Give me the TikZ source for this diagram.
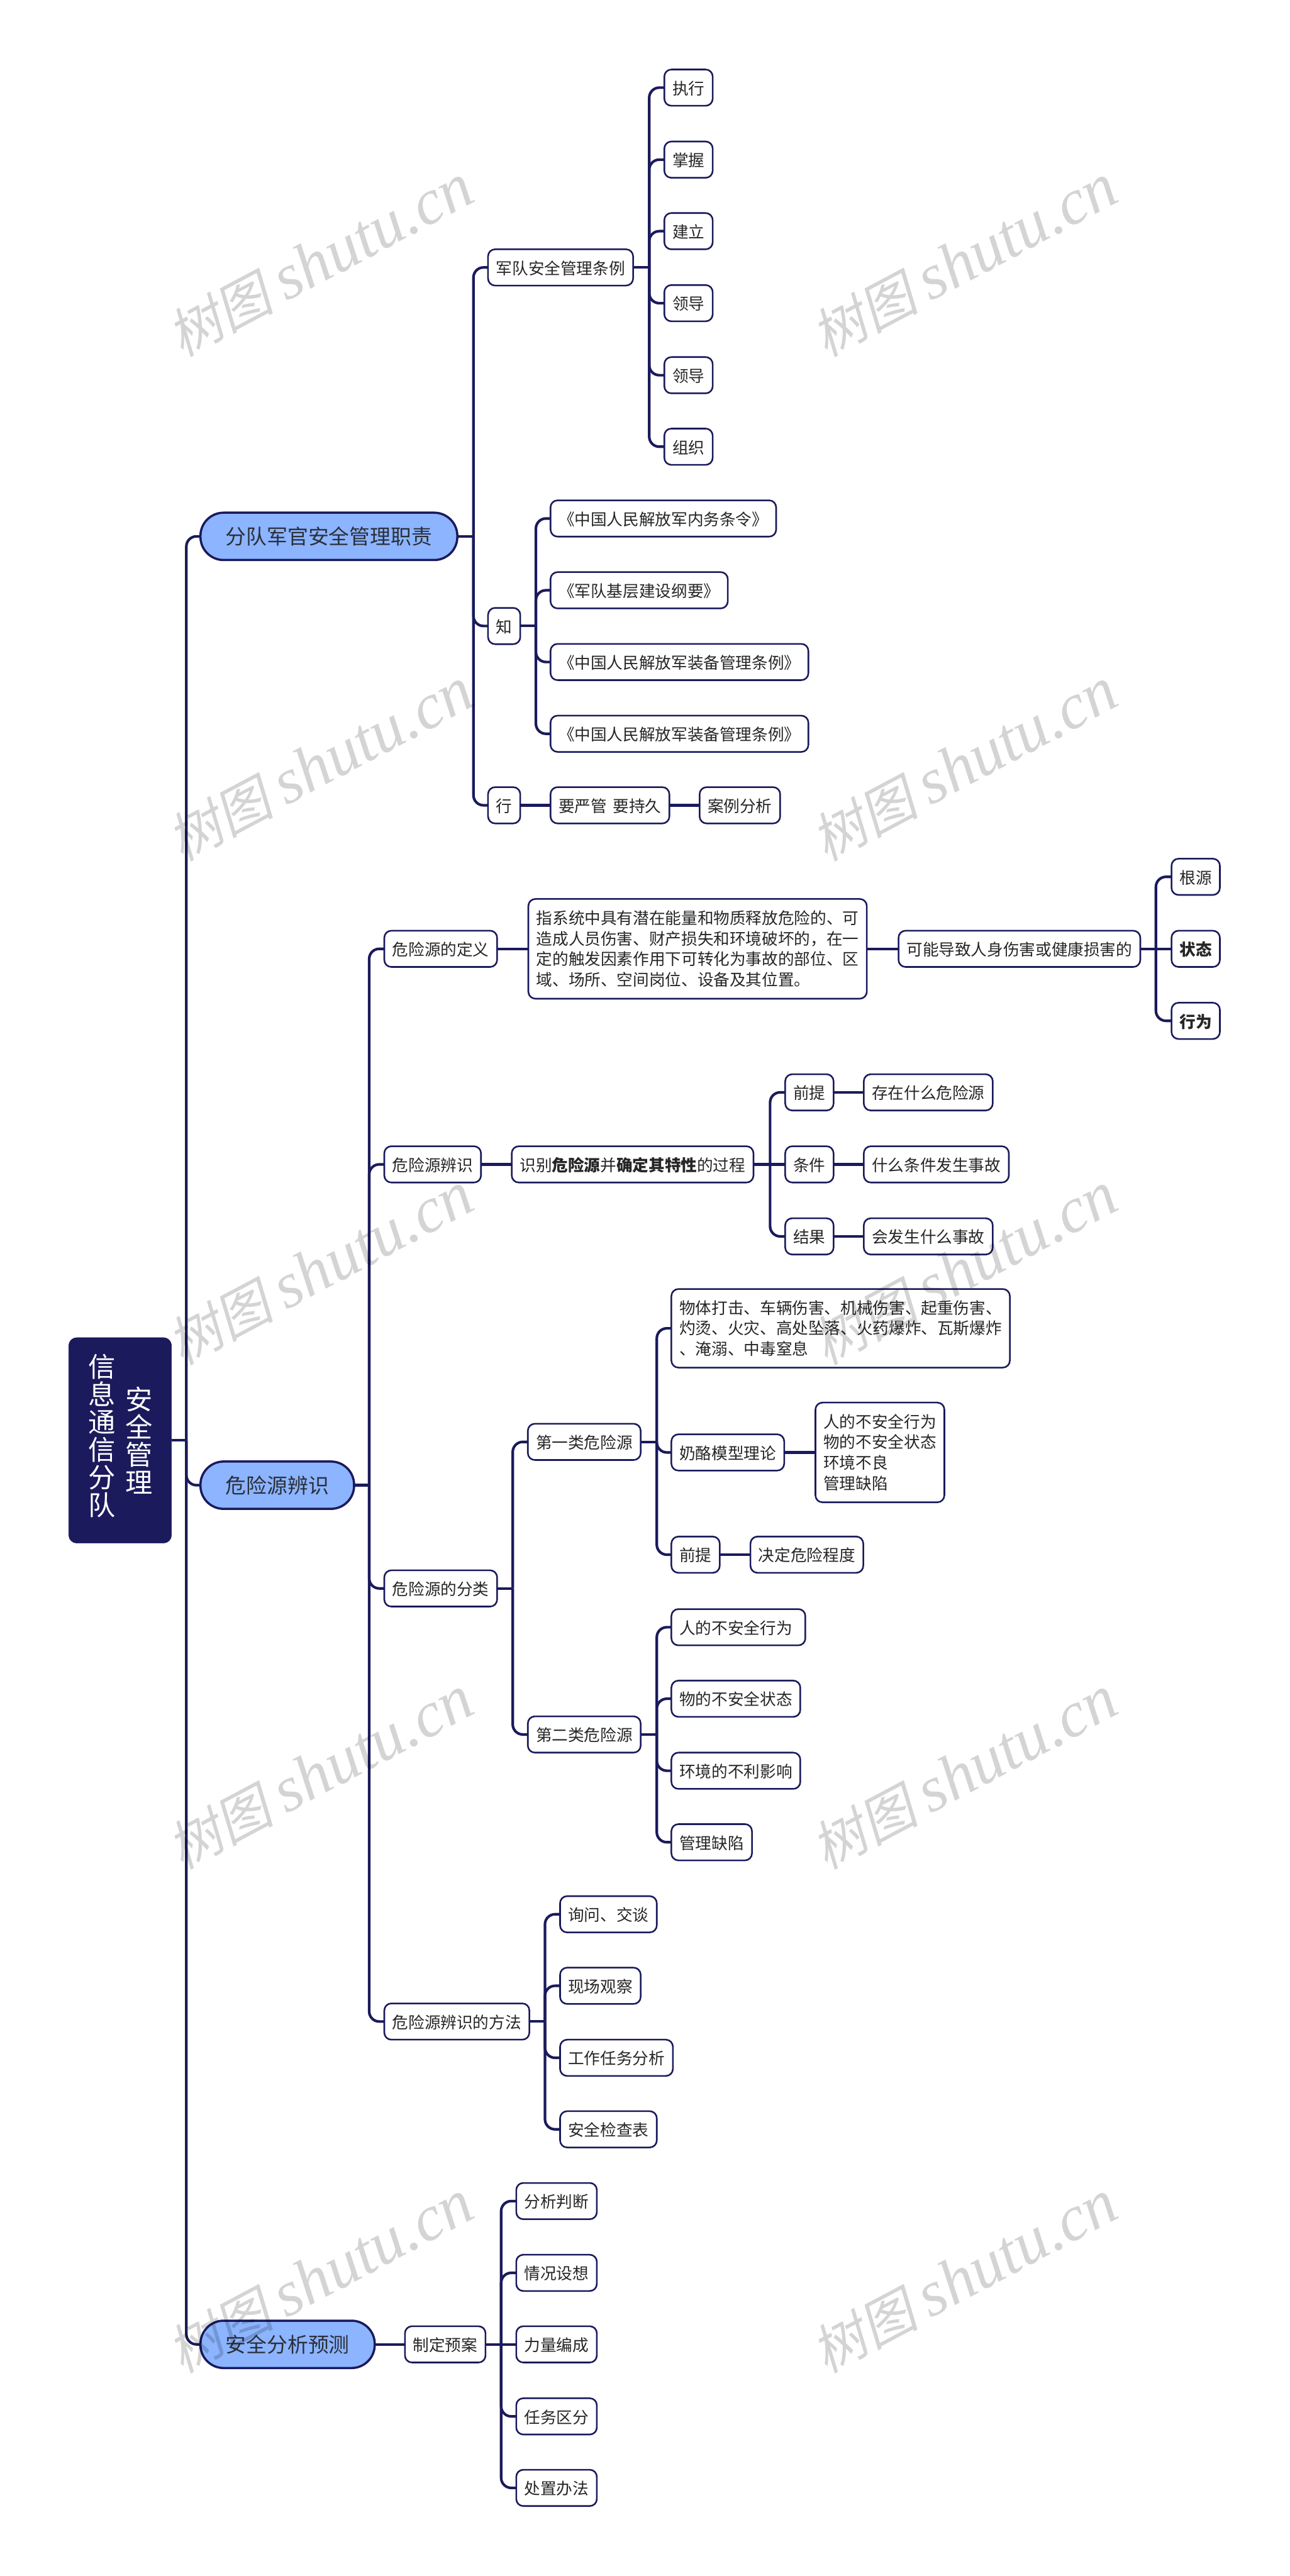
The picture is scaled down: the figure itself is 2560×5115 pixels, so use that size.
\documentclass[tikz,border=0pt]{standalone}
\usepackage{fontspec,xcolor}
\setmainfont{Noto Sans CJK SC}
\newfontfamily\markcjk{Noto Sans CJK SC}[FakeSlant=.2]
\newfontfamily\marklatin{Liberation Serif}
\definecolor{mapnavy}{HTML}{1A1A5C}
\definecolor{mapblue}{HTML}{8CB4FF}
\definecolor{mapink}{HTML}{2A2F3A}
\tikzset{
    rootbox/.style={draw=mapnavy,fill=mapnavy,rounded corners=8pt,minimum width=102pt,minimum height=204pt,outer sep=0pt},
    roottext/.style={text=white,align=center,inner sep=0pt,font=\fontsize{27}{27.4}\selectfont},
    mainbox/.style={anchor=west,draw=mapnavy,fill=mapblue,line width=2.2pt,rounded corners=23pt,inner xsep=25pt,minimum height=47pt,outer sep=0pt,text=mapink,text height=18.6pt,text depth=3pt,font=\fontsize{20.5}{24}\selectfont},
    topic/.style={anchor=west,draw=mapnavy,fill=white,line width=1.6pt,rounded corners=7pt,inner xsep=8pt,inner ysep=0pt,minimum height=36pt,outer sep=0pt,text=black!85,text height=15.6pt,text depth=2pt,font=\fontsize{16}{20.5}\selectfont},
    note/.style={anchor=west,draw=mapnavy,fill=white,line width=1.6pt,rounded corners=7pt,inner xsep=8pt,inner ysep=0pt,outer sep=0pt,align=left,text=black!85,font=\fontsize{16}{20.5}\selectfont},
    link/.style={draw=mapnavy,line width=2.6pt,rounded corners=10pt},
    shutu/.style={rotate=28,inner sep=0pt,text=black,text opacity=.17}
}
\begin{document}
\begin{tikzpicture}[x=.5pt,y=-.5pt]
    \useasboundingbox (0,0) rectangle (2560,5115);
    \fill[white] (0,0) rectangle (2560,5115);
    \coordinate (forkroot) at (370,0);
    \coordinate (forka) at (940,0);
    \coordinate (forkrules) at (1289,0);
    \coordinate (forkknow) at (1064,0);
    \coordinate (forkb) at (733,0);
    \coordinate (forkharm) at (2295,0);
    \coordinate (forkident) at (1529,0);
    \coordinate (forksort) at (1018,0);
    \coordinate (forkfirst) at (1304,0);
    \coordinate (forkway) at (1082,0);
    \coordinate (forkplan) at (995,0);

    \node[rootbox] (root) at (238.5,2860) {};
    \node[roottext] (rootleft) at (202,2851) {信\\息\\通\\信\\分\\队};
    \node[roottext] (rootright) at (276,2860) {安\\全\\管\\理};

    \node[mainbox] (duty) at (398,1065) {分队军官安全管理职责};
    \node[mainbox] (hazard) at (398,2949) {危险源辨识};
    \node[mainbox] (predict) at (398,4655) {安全分析预测};

    \node[topic] (rules) at (969,531) {军队安全管理条例};
    \node[topic] (know) at (969,1243) {知};
    \node[topic] (act) at (969,1599) {行};
    \node[topic] (ruleone) at (1319,174) {执行};
    \node[topic] (ruletwo) at (1319,317) {掌握};
    \node[topic] (rulethree) at (1319,459) {建立};
    \node[topic] (rulefour) at (1319,602) {领导};
    \node[topic] (rulefive) at (1319,745) {领导};
    \node[topic] (rulesix) at (1319,887) {组织};
    \node[topic] (bookone) at (1093,1029.5) {《中国人民解放军内务条令》};
    \node[topic] (booktwo) at (1093,1172) {《军队基层建设纲要》};
    \node[topic] (bookthree) at (1093,1314.5) {《中国人民解放军装备管理条例》};
    \node[topic] (bookfour) at (1093,1457) {《中国人民解放军装备管理条例》};
    \node[topic] (strict) at (1093,1599) {要严管\hspace{6pt}要持久};
    \node[topic] (cases) at (1389,1599) {案例分析};

    \node[topic] (define) at (763,1884) {危险源的定义};
    \node[topic] (ident) at (763,2312) {危险源辨识};
    \node[topic] (sort) at (763,3154) {危险源的分类};
    \node[topic] (way) at (763,4014) {危险源辨识的方法};

    \node[note,minimum height=99pt] (meaning) at (1049,1884) {指系统中具有潜在能量和物质释放危险的、可\\造成人员伤害、财产损失和环境破坏的，在一\\定的触发因素作用下可转化为事故的部位、区\\域、场所、空间岗位、设备及其位置。};
    \node[topic] (harm) at (1784,1884) {可能导致人身伤害或健康损害的};
    \node[topic] (source) at (2326,1741) {根源};
    \node[topic] (state) at (2326,1884) {\textbf{状态}};
    \node[topic] (conduct) at (2326,2027) {\textbf{行为}};

    \node[topic] (process) at (1016,2312) {识别\textbf{危险源}并\textbf{确定其特性}的过程};
    \node[topic] (premise) at (1559,2169) {前提};
    \node[topic] (cond) at (1559,2312) {条件};
    \node[topic] (result) at (1559,2455) {结果};
    \node[topic] (exist) at (1715,2169) {存在什么危险源};
    \node[topic] (what) at (1715,2312) {什么条件发生事故};
    \node[topic] (happen) at (1715,2455) {会发生什么事故};

    \node[topic] (first) at (1048,2863) {第一类危险源};
    \node[topic] (second) at (1048,3444) {第二类危险源};
    \node[note,minimum height=78pt] (kinds) at (1333,2637.5) {物体打击、车辆伤害、机械伤害、起重伤害、\\灼烫、火灾、高处坠落、火药爆炸、瓦斯爆炸\\、淹溺、中毒窒息};
    \node[topic] (cheese) at (1333,2884) {奶酪模型理论};
    \node[note,minimum height=99pt] (faults) at (1619,2884) {人的不安全行为\\物的不安全状态\\环境不良\\管理缺陷};
    \node[topic] (basis) at (1333,3087) {前提};
    \node[topic] (degree) at (1490,3087) {决定危险程度};
    \node[topic] (people) at (1333,3231) {人的不安全行为\hspace*{5pt}};
    \node[topic] (things) at (1333,3373) {物的不安全状态};
    \node[topic] (setting) at (1333,3516) {环境的不利影响};
    \node[topic] (manage) at (1333,3658) {管理缺陷};

    \node[topic] (ask) at (1112,3801) {询问、交谈};
    \node[topic] (watch) at (1112,3943) {现场观察};
    \node[topic] (task) at (1112,4086) {工作任务分析};
    \node[topic] (check) at (1112,4228) {安全检查表};

    \node[topic] (plan) at (804,4655) {制定预案};
    \node[topic] (judge) at (1025,4370.5) {分析判断};
    \node[topic] (assume) at (1025,4513) {情况设想};
    \node[topic] (force) at (1025,4655) {力量编成};
    \node[topic] (divide) at (1025,4798) {任务区分};
    \node[topic] (handle) at (1025,4940) {处置办法};

    \draw[link] (root.east |- root.center) -- (forkroot |- root.center);
    \foreach \kid in {duty,hazard,predict}
        \draw[link] (forkroot |- root.center) -- (forkroot |- \kid.west) -- (\kid.west);

    \draw[link] (duty.east) -- (forka |- duty.east);
    \foreach \kid in {rules,know,act}
        \draw[link] (forka |- duty.east) -- (forka |- \kid.west) -- (\kid.west);
    \draw[link] (rules.east) -- (forkrules |- rules.east);
    \foreach \kid in {ruleone,ruletwo,rulethree,rulefour,rulefive,rulesix}
        \draw[link] (forkrules |- rules.east) -- (forkrules |- \kid.west) -- (\kid.west);
    \draw[link] (know.east) -- (forkknow |- know.east);
    \foreach \kid in {bookone,booktwo,bookthree,bookfour}
        \draw[link] (forkknow |- know.east) -- (forkknow |- \kid.west) -- (\kid.west);
    \draw[link] (act.east) -- (strict.west);
    \draw[link] (strict.east) -- (cases.west);

    \draw[link] (hazard.east) -- (forkb |- hazard.east);
    \foreach \kid in {define,ident,sort,way}
        \draw[link] (forkb |- hazard.east) -- (forkb |- \kid.west) -- (\kid.west);
    \draw[link] (define.east) -- (meaning.west);
    \draw[link] (meaning.east) -- (harm.west);
    \draw[link] (harm.east) -- (state.west);
    \foreach \kid in {source,conduct}
        \draw[link] (forkharm |- harm.east) -- (forkharm |- \kid.west) -- (\kid.west);
    \draw[link] (ident.east) -- (process.west);
    \draw[link] (process.east) -- (cond.west);
    \foreach \kid in {premise,result}
        \draw[link] (forkident |- process.east) -- (forkident |- \kid.west) -- (\kid.west);
    \draw[link] (premise.east) -- (exist.west);
    \draw[link] (cond.east) -- (what.west);
    \draw[link] (result.east) -- (happen.west);

    \draw[link] (sort.east) -- (forksort |- sort.east);
    \foreach \kid in {first,second}
        \draw[link] (forksort |- sort.east) -- (forksort |- \kid.west) -- (\kid.west);
    \draw[link] (first.east) -- (forkfirst |- first.east);
    \foreach \kid in {kinds,cheese,basis}
        \draw[link] (forkfirst |- first.east) -- (forkfirst |- \kid.west) -- (\kid.west);
    \draw[link] (cheese.east) -- (faults.west);
    \draw[link] (basis.east) -- (degree.west);
    \draw[link] (second.east) -- (forkfirst |- second.east);
    \foreach \kid in {people,things,setting,manage}
        \draw[link] (forkfirst |- second.east) -- (forkfirst |- \kid.west) -- (\kid.west);

    \draw[link] (way.east) -- (forkway |- way.east);
    \foreach \kid in {ask,watch,task,check}
        \draw[link] (forkway |- way.east) -- (forkway |- \kid.west) -- (\kid.west);

    \draw[link] (predict.east) -- (plan.west);
    \draw[link] (plan.east) -- (force.west);
    \foreach \kid in {judge,assume,divide,handle}
        \draw[link] (forkplan |- plan.east) -- (forkplan |- \kid.west) -- (\kid.west);

    \foreach \markx in {636,1915}
        \foreach \marky in {518,1519,2520,3521,4522}
            \node[shutu] (mark\markx\marky) at (\markx,\marky) {\fontsize{53}{60}\markcjk 树图 \fontsize{64}{70}\marklatin\itshape shutu.cn};
\end{tikzpicture}
\end{document}
